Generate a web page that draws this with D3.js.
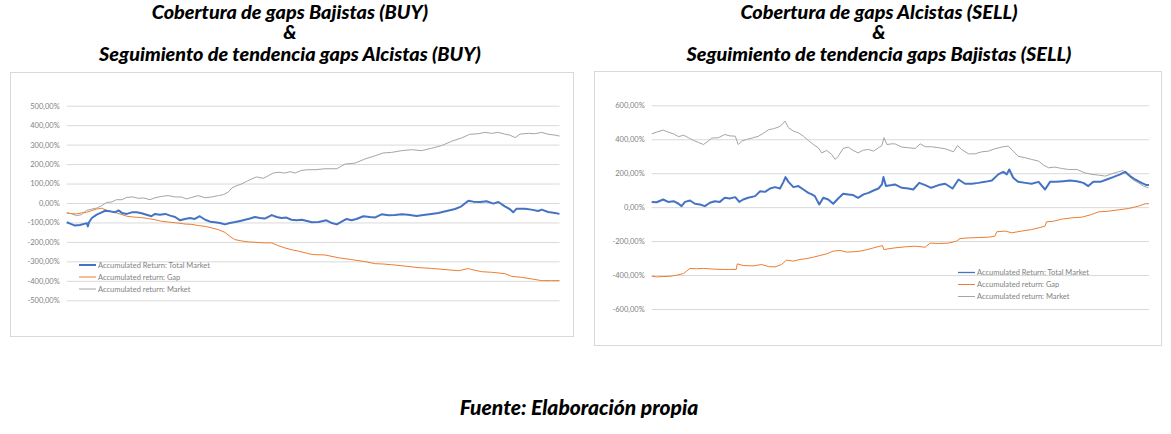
<!DOCTYPE html>
<html>
<head>
<meta charset="utf-8">
<script src="https://cdn.jsdelivr.net/npm/d3@7"></script>
<style>
  body { margin: 0; background: #fff; }
  svg { display: block; }
  .title { font-family: Lato, "Open Sans", sans-serif; font-weight: 900; font-style: italic; fill: #000; }
  .tick-label, .legend-label { font-family: Lato, "Open Sans", sans-serif; fill: #7f7f7f; }
</style>
</head>
<body>
<svg id="chart"></svg>
<script>
// series names (legend)
var seriesNames = ["Accumulated Return: Total Market", "Accumulated return: Gap", "Accumulated return: Market"];
var seriesColors = ["#4472c4", "#ed7d31", "#a5a5a5"];

// left chart: [observation, accumulated return %]
var buyTotal = [[0,-99],[7,-106],[17,-116],[27,-113],[37,-106],[41,-104],[43,-120],[45,-100],[51,-77],[61,-60],[71,-48],[78,-40],[88,-43],[98,-48],[105,-38],[112,-51],[122,-56],[132,-48],[142,-48],[152,-53],[162,-60],[172,-68],[179,-56],[189,-60],[200,-56],[210,-65],[220,-72],[230,-89],[240,-82],[250,-77],[260,-82],[270,-68],[281,-86],[291,-96],[301,-99],[311,-103],[321,-110],[331,-103],[342,-98],[352,-92],[362,-86],[372,-80],[382,-72],[392,-77],[402,-80],[416,-62],[426,-72],[436,-77],[446,-75],[456,-86],[467,-89],[477,-86],[490,-94],[497,-99],[511,-98],[527,-89],[538,-103],[548,-110],[558,-96],[568,-82],[578,-89],[588,-82],[602,-68],[615,-72],[626,-74],[639,-58],[653,-63],[666,-62],[680,-58],[693,-60],[710,-67],[724,-62],[740,-56],[754,-51],[771,-41],[788,-31],[801,-17],[815,12],[825,7],[839,5],[852,9],[866,-3],[876,5],[889,-17],[899,-31],[906,-48],[913,-29],[930,-29],[943,-34],[957,-41],[964,-34],[977,-46],[991,-51],[1000,-56]];
var buyGap = [[0,-51],[10,-55],[20,-56],[30,-51],[40,-48],[51,-39],[61,-31],[71,-27],[78,-34],[88,-43],[98,-48],[112,-60],[122,-68],[135,-72],[152,-75],[166,-80],[179,-86],[193,-94],[210,-99],[226,-103],[240,-108],[254,-110],[267,-116],[281,-120],[294,-128],[308,-137],[321,-151],[331,-171],[341,-188],[355,-195],[369,-200],[382,-202],[402,-205],[416,-205],[429,-219],[443,-231],[456,-240],[470,-247],[490,-260],[500,-265],[524,-267],[551,-281],[578,-291],[605,-301],[626,-312],[639,-313],[659,-317],[686,-324],[713,-332],[740,-336],[768,-342],[795,-348],[815,-337],[822,-342],[842,-353],[862,-356],[889,-363],[903,-377],[923,-382],[943,-390],[964,-399],[984,-399],[1000,-399]];
var buyMarket = [[0,-51],[10,-55],[20,-65],[30,-60],[40,-38],[51,-31],[61,-26],[71,-14],[81,3],[91,5],[101,17],[112,17],[122,29],[135,31],[145,24],[156,26],[169,17],[179,27],[193,34],[206,38],[220,31],[233,31],[243,21],[254,29],[267,38],[281,27],[294,31],[308,38],[318,43],[328,56],[335,77],[345,89],[355,98],[365,111],[375,123],[385,134],[399,127],[409,140],[419,154],[429,158],[443,154],[453,161],[463,154],[477,168],[490,171],[504,171],[524,176],[548,176],[565,200],[585,205],[605,226],[626,243],[642,257],[659,260],[680,269],[700,274],[720,269],[740,281],[761,295],[781,317],[801,334],[818,353],[835,356],[849,363],[862,358],[876,363],[889,354],[899,349],[910,336],[920,354],[937,358],[950,356],[964,363],[977,353],[991,349],[1000,344]];
var buyTicks = [500, 400, 300, 200, 100, 0, -100, -200, -300, -400, -500];

// right chart
var sellTotal = [[0,31],[10,29],[23,45],[33,31],[44,35],[54,20],[60,6],[67,31],[77,39],[87,20],[97,16],[107,6],[117,26],[127,35],[137,31],[147,55],[157,51],[168,59],[176,31],[184,45],[194,55],[208,65],[218,94],[228,90],[238,110],[248,118],[258,110],[265,149],[269,177],[275,149],[285,118],[295,124],[305,104],[315,84],[322,75],[328,65],[337,16],[345,55],[355,45],[365,20],[375,51],[385,79],[395,75],[405,71],[415,55],[426,75],[436,84],[446,98],[456,110],[463,134],[466,177],[471,124],[483,130],[489,134],[503,114],[516,110],[526,104],[538,143],[550,130],[562,114],[577,130],[590,138],[605,110],[617,163],[630,138],[644,138],[657,143],[670,149],[684,157],[697,193],[707,208],[714,193],[719,222],[727,173],[737,149],[751,143],[764,138],[778,149],[791,104],[801,149],[814,149],[828,153],[841,157],[855,153],[868,143],[878,124],[888,149],[902,149],[915,163],[928,177],[942,193],[952,208],[962,183],[972,163],[985,143],[995,130],[1000,130]];
var sellGap = [[0,-407],[10,-411],[23,-409],[37,-407],[50,-401],[64,-391],[70,-377],[77,-361],[90,-363],[104,-361],[124,-365],[144,-367],[157,-367],[170,-367],[172,-334],[184,-344],[204,-346],[221,-338],[235,-350],[248,-352],[261,-338],[271,-312],[285,-318],[298,-308],[312,-303],[325,-295],[338,-285],[352,-275],[365,-259],[379,-255],[392,-265],[405,-263],[419,-259],[432,-251],[446,-240],[459,-230],[464,-226],[467,-250],[479,-244],[489,-240],[509,-234],[530,-230],[550,-236],[560,-212],[577,-214],[597,-212],[613,-200],[620,-185],[637,-181],[657,-179],[677,-177],[690,-171],[694,-145],[711,-141],[724,-151],[744,-141],[764,-132],[778,-122],[791,-112],[794,-86],[808,-83],[824,-71],[845,-63],[865,-59],[885,-43],[898,-28],[918,-24],[938,-16],[959,-8],[979,6],[992,20],[1000,20]];
var sellMarket = [[0,432],[10,442],[23,454],[33,442],[44,432],[54,415],[64,424],[74,409],[84,393],[94,381],[104,369],[111,383],[121,407],[134,409],[147,428],[157,420],[168,418],[174,369],[181,389],[191,399],[204,409],[214,417],[225,436],[235,456],[245,462],[255,472],[261,483],[268,507],[275,468],[285,448],[295,438],[305,418],[315,393],[325,369],[335,350],[342,320],[352,334],[362,310],[369,281],[375,300],[385,346],[395,354],[405,334],[415,320],[426,336],[436,340],[446,330],[456,350],[463,363],[467,409],[473,369],[483,373],[489,373],[503,354],[516,350],[530,346],[540,373],[550,356],[563,356],[577,350],[590,344],[607,326],[615,363],[623,340],[637,314],[650,314],[664,326],[677,330],[690,344],[704,354],[717,360],[727,330],[737,300],[751,291],[764,281],[778,271],[788,248],[798,232],[811,236],[824,228],[838,222],[855,222],[871,202],[885,193],[898,189],[912,183],[925,196],[938,208],[948,216],[959,183],[969,159],[979,143],[989,124],[999,114]];
var sellTicks = [600, 400, 200, 0, -200, -400, -600];

var buyTitle = ["Cobertura de gaps Bajistas (BUY)", "&", "Seguimiento de tendencia gaps Alcistas (BUY)"];
var sellTitle = ["Cobertura de gaps Alcistas (SELL)", "&", "Seguimiento de tendencia gaps Bajistas (SELL)"];
var sourceNote = "Fuente: Elaboración propia";

var width = 1171, height = 434;
var svg = d3.select("#chart").attr("width", width).attr("height", height);

var esLocale = d3.formatLocale({ decimal: ",", thousands: ".", grouping: [3], currency: ["", "€"], minus: "-" });
var fmt = esLocale.format(".2f");

function drawPanel(cfg) {
  var g = svg.append("g");

  // frame
  g.append("rect")
    .attr("x", cfg.box[0] + 0.5).attr("y", cfg.box[1] + 0.5)
    .attr("width", cfg.box[2]).attr("height", cfg.box[3])
    .attr("fill", "#fff").attr("stroke", "#d9d9d9");

  // title, three lines
  var title = g.append("text").attr("class", "title")
    .attr("text-anchor", "middle").style("font-size", "19.8px");
  var baselines = [19, 38.5, 61];
  cfg.title.forEach(function (t, i) {
    title.append("tspan").attr("x", cfg.titleX).attr("y", baselines[i]).text(t);
  });

  var x = d3.scaleLinear().domain([0, 1000]).range([cfg.plot[0], cfg.plot[1]]);
  var y = d3.scaleLinear().domain([cfg.ticks[0], cfg.ticks[cfg.ticks.length - 1]])
    .range([cfg.plot[2], cfg.plot[3]]);

  var axis = d3.axisLeft(y).tickValues(cfg.ticks)
    .tickSize(-(cfg.plot[1] - cfg.plot[0]))
    .tickPadding(7)
    .tickFormat(function (d) { return fmt(d) + "%"; });

  var ag = g.append("g").attr("transform", "translate(" + cfg.plot[0] + ",0)").call(axis);
  ag.select(".domain").remove();
  ag.selectAll(".tick line").attr("stroke", "#d9d9d9");
  ag.selectAll(".tick text").attr("class", "tick-label")
    .style("font-size", "7.5px").attr("fill", "#7f7f7f");

  var line = d3.line().x(function (d) { return x(d[0]); }).y(function (d) { return y(d[1]); });

  // draw market first, then gap, then total on top
  var order = [2, 1, 0];
  var widths = [2, 1, 1];
  order.forEach(function (k) {
    g.append("path")
      .datum(cfg.series[k])
      .attr("fill", "none")
      .attr("stroke", seriesColors[k])
      .attr("stroke-width", widths[k])
      .attr("stroke-linejoin", "round")
      .attr("d", line);
  });

  // legend
  var lg = g.append("g").attr("transform", "translate(" + cfg.legend[0] + "," + cfg.legend[1] + ")");
  seriesNames.forEach(function (name, i) {
    var row = lg.append("g").attr("transform", "translate(0," + i * 12 + ")");
    row.append("line").attr("x1", 0).attr("x2", 17).attr("y1", 0).attr("y2", 0)
      .attr("stroke", seriesColors[i]).attr("stroke-width", i === 0 ? cfg.legendWidth : 1);
    row.append("text").attr("class", "legend-label")
      .attr("x", 19).attr("y", 0).attr("dy", "0.35em")
      .style("font-size", "7.5px").text(name);
  });
}

drawPanel({
  box: [10, 72, 563, 264],
  plot: [66.7, 559.5, 105.7, 300.3],
  ticks: buyTicks,
  series: [buyTotal, buyGap, buyMarket],
  title: buyTitle,
  titleX: 290,
  legend: [79, 265],
  legendWidth: 2
});

drawPanel({
  box: [594, 71, 567, 274],
  plot: [651.7, 1149, 105.3, 309],
  ticks: sellTicks,
  series: [sellTotal, sellGap, sellMarket],
  title: sellTitle,
  titleX: 879,
  legend: [958, 272.5],
  legendWidth: 1.3
});

svg.append("text").attr("class", "title")
  .attr("x", 579).attr("y", 415)
  .attr("text-anchor", "middle").style("font-size", "21px")
  .text(sourceNote);
</script>
</body>
</html>
